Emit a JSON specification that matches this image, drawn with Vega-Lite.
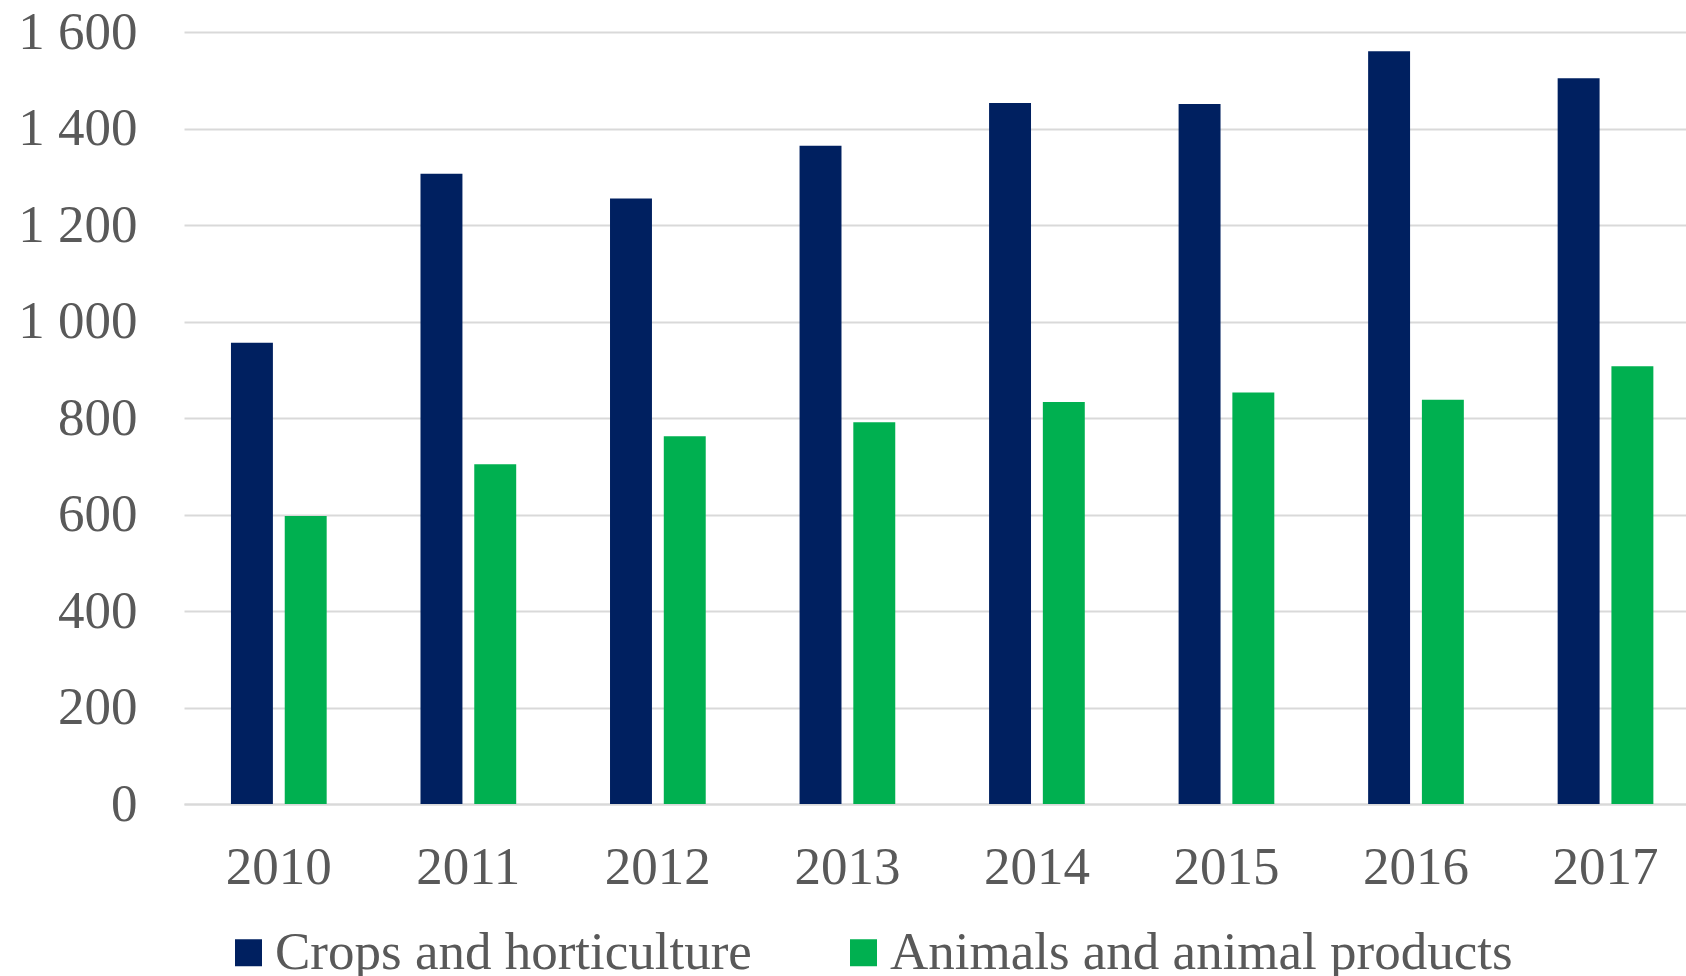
{
  "$schema": "https://vega.github.io/schema/vega-lite/v6.json",
  "autosize": "none",
  "padding": {"left": 184, "top": 32, "right": 0, "bottom": 172},
  "width": 1502,
  "height": 772,
  "background": "white",
  "config": {
    "font": "Liberation Serif",
    "view": {"stroke": null}
  },
  "data": {
    "values": [
      {"year": "2010", "series": "Crops and horticulture", "value": 956},
      {"year": "2010", "series": "Animals and animal products", "value": 597},
      {"year": "2011", "series": "Crops and horticulture", "value": 1306},
      {"year": "2011", "series": "Animals and animal products", "value": 704},
      {"year": "2012", "series": "Crops and horticulture", "value": 1255},
      {"year": "2012", "series": "Animals and animal products", "value": 762},
      {"year": "2013", "series": "Crops and horticulture", "value": 1364},
      {"year": "2013", "series": "Animals and animal products", "value": 791},
      {"year": "2014", "series": "Crops and horticulture", "value": 1453},
      {"year": "2014", "series": "Animals and animal products", "value": 833},
      {"year": "2015", "series": "Crops and horticulture", "value": 1451},
      {"year": "2015", "series": "Animals and animal products", "value": 853},
      {"year": "2016", "series": "Crops and horticulture", "value": 1560},
      {"year": "2016", "series": "Animals and animal products", "value": 838},
      {"year": "2017", "series": "Crops and horticulture", "value": 1504},
      {"year": "2017", "series": "Animals and animal products", "value": 907}
    ]
  },
  "mark": {"type": "bar"},
  "encoding": {
    "x": {
      "field": "year",
      "type": "nominal",
      "scale": {"paddingInner": 0.495, "paddingOuter": 0.21, "align": 0.59},
      "axis": {
        "title": null,
        "labelAngle": 0,
        "labelFontSize": 53,
        "labelColor": "#595959",
        "labelPadding": 37,
        "ticks": false,
        "domainColor": "#d9d9d9",
        "domainWidth": 2,
        "grid": false
      }
    },
    "xOffset": {
      "field": "series",
      "type": "nominal",
      "sort": ["Crops and horticulture", "Animals and animal products"],
      "scale": {"paddingInner": 0.22, "paddingOuter": 0}
    },
    "y": {
      "field": "value",
      "type": "quantitative",
      "scale": {"domain": [0, 1600], "nice": false},
      "axis": {
        "title": null,
        "values": [0, 200, 400, 600, 800, 1000, 1200, 1400, 1600],
        "labelExpr": "replace(format(datum.value, ','), ',', ' ')",
        "labelFontSize": 53,
        "labelColor": "#595959",
        "labelPadding": 47,
        "ticks": false,
        "domain": false,
        "grid": true,
        "gridColor": "#d9d9d9",
        "gridWidth": 2
      }
    },
    "color": {
      "field": "series",
      "type": "nominal",
      "scale": {
        "domain": ["Crops and horticulture", "Animals and animal products"],
        "range": ["#002060", "#00b050"]
      },
      "legend": {
        "title": null,
        "orient": "none",
        "direction": "horizontal",
        "legendX": 38,
        "legendY": 894,
        "symbolType": "square",
        "symbolSize": 729,
        "symbolStrokeWidth": 0,
        "labelFontSize": 53,
        "labelColor": "#595959",
        "labelOffset": 0,
        "columnPadding": 85,
        "labelLimit": 1000
      }
    }
  }
}
